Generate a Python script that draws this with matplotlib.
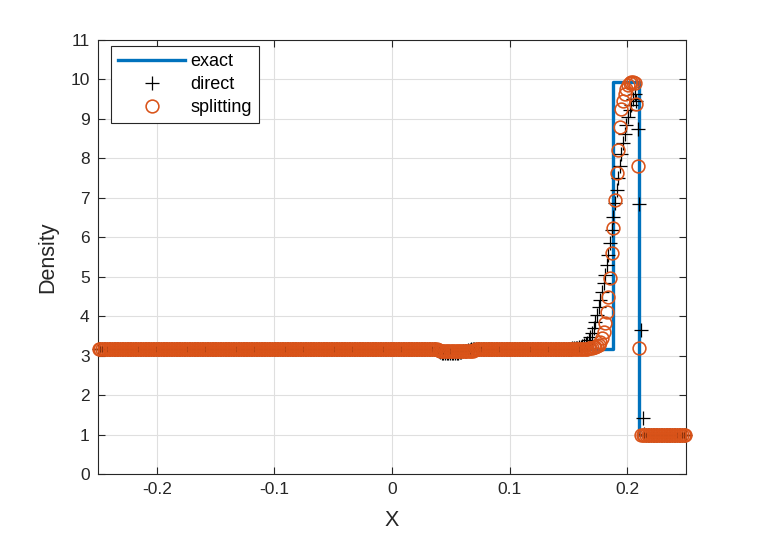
import numpy as np
import matplotlib
matplotlib.use("Agg")
import matplotlib.pyplot as plt

# ---------------- data ----------------
n_cells = 360
x_min, x_max = -0.25, 0.25

# exact solution (piecewise constant)
exact_x = [-0.25, 0.188, 0.188, 0.2098, 0.2098, 0.25]
exact_rho = [3.175, 3.175, 9.93, 9.93, 1.0, 1.0]

# "direct" scheme
direct_left_state = 3.18
direct_right_state = 1.0
direct_dip_start = 207
direct_dip = [3.15, 3.11, 3.08, 3.07, 3.07, 3.07, 3.07, 3.07, 3.07, 3.07,
              3.07, 3.07, 3.07, 3.07, 3.08, 3.09, 3.11, 3.12, 3.13, 3.14,
              3.15, 3.16, 3.17]
direct_shock_start = 290
direct_shock = [3.185, 3.19, 3.195, 3.20, 3.21, 3.22, 3.24, 3.26, 3.29, 3.33,
                3.39, 3.47, 3.57, 3.69, 3.86, 4.03, 4.24, 4.41, 4.62, 4.83,
                5.04, 5.30, 5.55, 5.85, 6.19, 6.52, 6.88, 7.20, 7.50, 7.80,
                8.10, 8.38, 8.62, 8.85, 9.05, 9.22, 9.36, 9.50, 9.62, 9.45,
                8.75, 6.84, 3.65, 1.43, 1.02]

# "splitting" scheme
split_left_state = 3.17
split_right_state = 1.0
split_dip_start = 208
split_dip = [3.15, 3.12, 3.11, 3.11, 3.11, 3.11, 3.11, 3.11, 3.11, 3.11,
             3.11, 3.11, 3.11, 3.11, 3.11, 3.11, 3.11, 3.11, 3.11, 3.11,
             3.11, 3.13, 3.15]
split_shock_start = 298
split_shock = [3.175, 3.18, 3.185, 3.19, 3.20, 3.21, 3.22, 3.24, 3.28, 3.35,
               3.45, 3.60, 3.82, 4.11, 4.49, 4.96, 5.59, 6.23, 6.94, 7.62,
               8.21, 8.79, 9.25, 9.46, 9.63, 9.76, 9.86, 9.91, 9.93, 9.93,
               9.92, 9.38, 7.81, 3.19, 1.0]

x_ticks = [-0.2, -0.1, 0, 0.1, 0.2]
x_tick_labels = ["-0.2", "-0.1", "0", "0.1", "0.2"]
y_ticks = list(range(0, 12))


def assemble(left, right, dip_start, dip, shock_start, shock):
    vals = np.full(n_cells, float(left))
    end = shock_start + len(shock)
    vals[end:] = right
    vals[dip_start:dip_start + len(dip)] = dip
    vals[shock_start:end] = shock
    return vals


dx = (x_max - x_min) / n_cells
x_cells = x_min + dx * (np.arange(n_cells) + 0.5)
rho_direct = assemble(direct_left_state, direct_right_state, direct_dip_start,
                      direct_dip, direct_shock_start, direct_shock)
rho_split = assemble(split_left_state, split_right_state, split_dip_start,
                     split_dip, split_shock_start, split_shock)

# ---------------- plot ----------------
plt.rcParams["font.family"] = ["Liberation Sans", "DejaVu Sans"]
plt.rcParams["axes.unicode_minus"] = False

W, H = 759, 536
fig = plt.figure(figsize=(W / 100, H / 100), dpi=100)
ax = fig.add_axes([98 / W, (H - 474) / H, (686 - 98) / W, (474 - 40) / H])

blue = "#0072BD"
orange = "#D95319"
dark = "#262626"

ax.plot(exact_x, exact_rho, color=blue, lw=2.4, label="exact", zorder=3)
ax.plot(x_cells, rho_direct, ls="none", marker="+", ms=10.5, mew=0.9,
        color="black", label="direct", zorder=4, clip_on=False)
ax.plot(x_cells, rho_split, ls="none", marker="o", ms=9.2, mew=1.15,
        mfc="none", mec=orange, label="splitting", zorder=5, clip_on=False)

ax.set_xlim(x_min, x_max)
ax.set_ylim(0, 11)
ax.set_xticks(x_ticks)
ax.set_xticklabels(x_tick_labels)
ax.set_yticks(y_ticks)

ax.grid(True, color="#DFDFDF", lw=0.8)
ax.set_axisbelow(True)
ax.tick_params(direction="in", length=5, width=0.8, colors=dark,
               labelsize=12.5, top=True, right=True, pad=6)
for s in ax.spines.values():
    s.set_color(dark)
    s.set_linewidth(0.8)

ax.set_xlabel("X", fontsize=15.5, color=dark, labelpad=9)
ax.set_ylabel("Density", fontsize=15.5, color=dark, labelpad=9)

leg = ax.legend(loc="upper left", bbox_to_anchor=(13 / 588, 1 - 6 / 434),
                borderaxespad=0, fontsize=13, frameon=True, fancybox=False,
                numpoints=1, handlelength=3.7, handletextpad=0.3,
                borderpad=0.4, labelspacing=0.33)
leg.get_frame().set_edgecolor(dark)
leg.get_frame().set_linewidth(0.8)
leg.get_frame().set_alpha(1)

fig.savefig("out.png", dpi=100)
